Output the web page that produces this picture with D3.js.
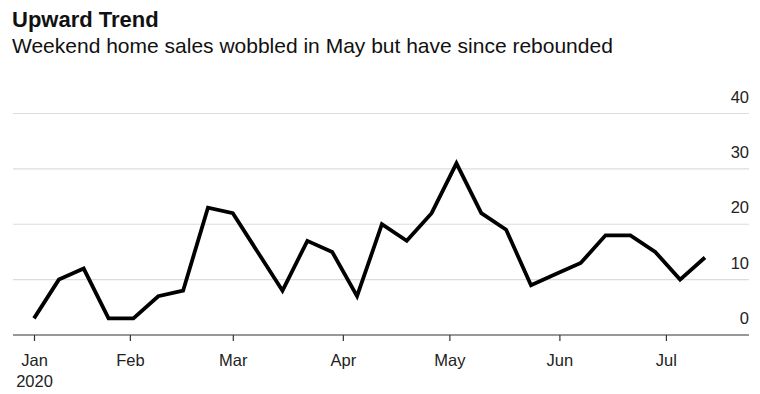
<!DOCTYPE html>
<html>
<head>
<meta charset="utf-8">
<script src="https://cdn.jsdelivr.net/npm/d3@7"></script>
<style>
  body { margin: 0; background: #fff; }
  svg { display: block; font-family: "Liberation Sans", Arial, sans-serif; }
  .title { font-weight: bold; font-size: 22px; fill: #111; }
  .subtitle { font-size: 21px; fill: #111; }
  .tick-label { font-size: 16.5px; fill: #222; }
</style>
</head>
<body>
<div id="chart"></div>
<script>
// weekly weekend home sales, starting Sunday Jan 5 2020
var startDate = "2020-01-05";
var sales = [3, 10, 12, 3, 3, 7, 8, 23, 22, 15, 8, 17, 15, 7,
             20, 17, 22, 31, 22, 19, 9, 11, 13, 18, 18, 15, 10, 14];
var yTicks = [0, 10, 20, 30, 40];
var monthTicks = ["2020-01-05", "2020-02-01", "2020-03-01", "2020-04-01",
                  "2020-05-01", "2020-06-01", "2020-07-01"];
var monthLabels = ["Jan", "Feb", "Mar", "Apr", "May", "Jun", "Jul"];

var parse = d3.timeParse("%Y-%m-%d");
var t0 = parse(startDate);
var data = sales.map(function(v, i) {
  return { date: d3.timeDay.offset(t0, i * 7), value: v };
});

var width = 760, height = 394;
var plotLeft = 13, plotRight = 749;

var svg = d3.select("#chart").append("svg")
    .attr("width", width)
    .attr("height", height);

svg.append("text").attr("class", "title")
    .attr("x", 12).attr("y", 27).text("Upward Trend");
svg.append("text").attr("class", "subtitle")
    .attr("x", 12).attr("y", 53)
    .text("Weekend home sales wobbled in May but have since rebounded");

var x = d3.scaleTime()
    .domain([data[0].date, data[data.length - 1].date])
    .range([34, 34 + 189 * 3.55]);

var y = d3.scaleLinear()
    .domain([0, 40])
    .range([335, 113.5]);

// gridlines + right labels
var grid = svg.append("g");
grid.selectAll("line")
    .data(yTicks.filter(function(d) { return d > 0; }))
  .enter().append("line")
    .attr("x1", plotLeft).attr("x2", plotRight)
    .attr("y1", function(d) { return y(d); })
    .attr("y2", function(d) { return y(d); })
    .attr("stroke", "#dcdcdc")
    .attr("stroke-width", 1.2);

grid.selectAll("text")
    .data(yTicks)
  .enter().append("text")
    .attr("class", "tick-label")
    .attr("text-anchor", "end")
    .attr("x", plotRight)
    .attr("y", function(d) { return y(d) - 11; })
    .text(function(d) { return d; });

// x axis
var xAxis = svg.append("g")
    .attr("transform", "translate(0," + y(0) + ")")
    .call(d3.axisBottom(x)
      .tickValues(monthTicks.map(parse))
      .tickSize(6)
      .tickFormat(function(d, i) { return monthLabels[i]; }));

xAxis.select(".domain").remove();
xAxis.insert("line", ":first-child")
    .attr("x1", plotLeft).attr("x2", plotRight)
    .attr("stroke", "#333").attr("stroke-width", 1.2);
xAxis.selectAll(".tick line").attr("stroke", "#333").attr("stroke-width", 1.2);
xAxis.selectAll(".tick text")
    .attr("class", "tick-label")
    .attr("font-family", null).attr("font-size", null)
    .attr("dy", null).attr("y", 31);

xAxis.select(".tick text")
  .append("tspan")
    .attr("x", 0).attr("dy", 21).text("2020");

var line = d3.line()
    .x(function(d) { return x(d.date); })
    .y(function(d) { return y(d.value); });

svg.append("path")
    .datum(data)
    .attr("fill", "none")
    .attr("stroke", "#000")
    .attr("stroke-width", 3.8)
    .attr("stroke-linejoin", "miter")
    .attr("d", line);
</script>
</body>
</html>
